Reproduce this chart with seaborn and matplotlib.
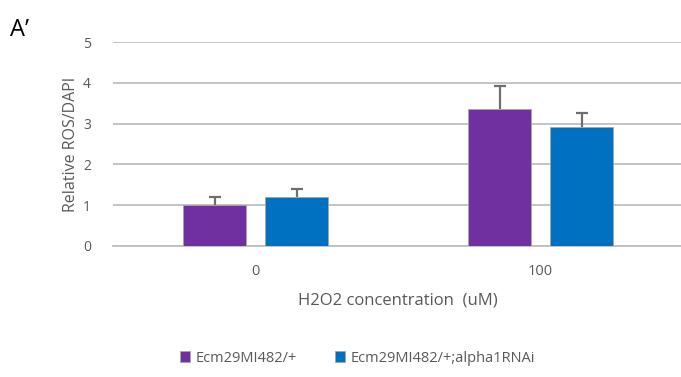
import pandas as pd
import numpy as np
import matplotlib.pyplot as plt
import seaborn as sns

# data
concentrations = ['0', '100']
genotypes = ['Ecm29MI482/+', 'Ecm29MI482/+;alpha1RNAi']
ctrl_means = [1.00, 3.37]
ctrl_err = [0.19, 0.54]
rnai_means = [1.21, 2.91]
rnai_err = [0.19, 0.34]

colors = ['#7030A0', '#0070C0']
text_gray = '#595959'
grid_gray = '#BFBFBF'

df = pd.DataFrame({
    'conc': concentrations * 2,
    'genotype': [genotypes[0]] * 2 + [genotypes[1]] * 2,
    'value': ctrl_means + rnai_means,
    'err': ctrl_err + rnai_err,
})

sns.set_style('white')
plt.rcParams['font.family'] = ['Open Sans', 'DejaVu Sans']

fig = plt.figure(figsize=(6.81, 3.77), dpi=100)
ax = fig.add_axes([0.166, 0.3475, 0.837, 0.541])

sns.barplot(data=df, x='conc', y='value', hue='genotype', order=concentrations,
            hue_order=genotypes, palette=colors, saturation=1, errorbar=None,
            width=0.575, gap=0.23, edgecolor='#A6A6A6', linewidth=0.6,
            ax=ax, zorder=3)

# one-sided (upper) error bars, placed on the drawn bars
for container, g in zip(ax.containers, genotypes):
    sub = df[df['genotype'] == g].set_index('conc').loc[concentrations]
    xs = [p.get_x() + p.get_width() / 2 for p in container.patches]
    eb = ax.errorbar(xs, sub['value'], yerr=[np.zeros(len(sub)), sub['err']],
                     fmt='none', ecolor='#6E6E6E', elinewidth=1.6, capsize=4,
                     capthick=1.6, zorder=4)
    # hide the lower cap (zero-length side)
    eb[1][0].set_visible(False)

ax.set_ylim(0, 5)
ax.set_xlim(-0.5, 1.5)
ax.set_yticks(range(0, 6))
ax.yaxis.grid(True, color=grid_gray, linewidth=1.3, zorder=0)
ax.set_axisbelow(True)
for s in ['top', 'right', 'left']:
    ax.spines[s].set_visible(False)
ax.spines['bottom'].set_color(grid_gray)
ax.spines['bottom'].set_linewidth(1.3)
ax.tick_params(axis='both', length=0, colors=text_gray)
ax.tick_params(axis='y', pad=16, labelsize=10)
ax.tick_params(axis='x', pad=13, labelsize=10.5)

ax.set_xlabel('H2O2 concentration  (uM)', fontsize=12, color=text_gray, labelpad=10)
ax.set_ylabel('Relative ROS/DAPI', fontsize=11.5, color=text_gray, labelpad=3)

leg = ax.legend(loc='center', ncol=2, frameon=False, fontsize=10.5,
                handlelength=0.7, handleheight=0.7, handletextpad=0.4,
                columnspacing=2.6)
leg.set_bbox_to_anchor((0.525, 0.05), transform=fig.transFigure)
for t in leg.get_texts():
    t.set_color(text_gray)

fig.text(0.015, 0.905, 'A\u2019', fontsize=17, color='black')

fig.savefig('out.png', dpi=100)
